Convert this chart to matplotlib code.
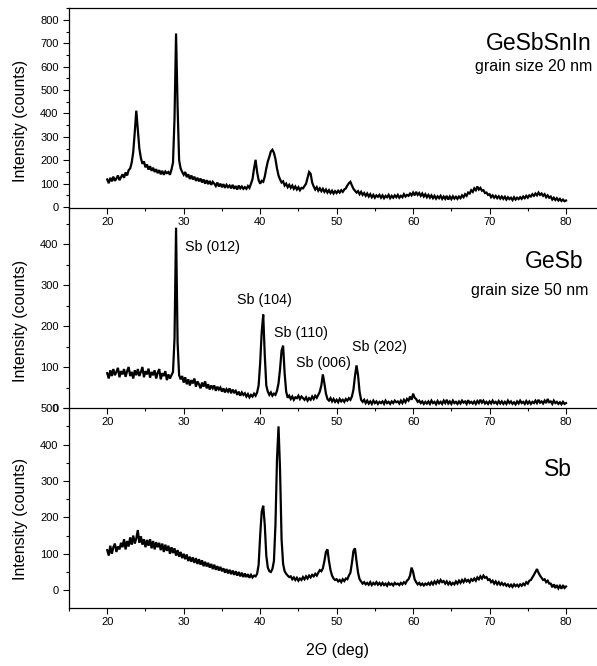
import numpy as np
import matplotlib
matplotlib.use("Agg")
import matplotlib.pyplot as plt
from matplotlib.ticker import MultipleLocator

plt.rcParams['font.family'] = ['Liberation Sans', 'DejaVu Sans']

# measurement grid, 2-theta in degrees (0.2 deg steps, 20..80)
two_theta = np.round(np.arange(20.0, 80.0001, 0.2), 1)

gesbsnin_counts = [
    118, 102, 125, 110, 130, 112, 122, 135, 115, 128,   # 20
    140, 125, 148, 135, 158, 165, 190, 235, 320, 412,   # 22
    330, 250, 210, 185, 195, 170, 182, 160, 175, 155,   # 24
    168, 150, 162, 145, 158, 140, 155, 138, 152, 145,   # 26
    150, 138, 160, 190, 380, 742, 430, 200, 165, 150,   # 28
    138, 150, 128, 140, 120, 135, 118, 130, 112, 125,   # 30
    110, 122, 105, 118, 100, 115, 98, 112, 95, 108,     # 32
    100, 90, 105, 88, 100, 85, 98, 82, 95, 85,          # 34
    92, 80, 95, 78, 90, 75, 92, 80, 88, 78,             # 36
    85, 78, 90, 82, 100, 120, 165, 202, 150, 115,       # 38
    100, 112, 108, 130, 165, 195, 215, 238, 245, 232,   # 40
    205, 165, 135, 118, 105, 110, 92, 100, 85, 95,      # 42
    82, 92, 78, 88, 75, 85, 72, 82, 80, 90,             # 44
    100, 125, 150, 142, 105, 88, 75, 85, 70, 80,        # 46
    68, 78, 65, 75, 62, 72, 60, 70, 58, 68,             # 48
    60, 70, 62, 72, 65, 75, 80, 92, 102, 108,           # 50
    92, 78, 70, 62, 68, 55, 65, 52, 60, 48,             # 52
    58, 45, 55, 42, 52, 40, 50, 44, 52, 40,             # 54
    50, 38, 48, 42, 52, 38, 48, 40, 50, 42,             # 56
    52, 40, 48, 42, 55, 45, 52, 48, 58, 50,             # 58
    62, 50, 65, 52, 60, 48, 58, 45, 55, 42,             # 60
    52, 40, 50, 38, 48, 36, 46, 38, 48, 35,             # 62
    45, 35, 48, 32, 45, 34, 46, 36, 44, 35,             # 64
    45, 38, 50, 42, 55, 48, 62, 58, 72, 65,             # 66
    80, 72, 88, 75, 82, 70, 72, 60, 62, 52,             # 68
    55, 42, 50, 40, 48, 38, 46, 36, 45, 35,             # 70
    44, 32, 42, 34, 40, 30, 42, 32, 40, 34,             # 72
    42, 35, 45, 38, 48, 40, 50, 45, 55, 48,             # 74
    58, 50, 62, 52, 58, 48, 55, 42, 50, 40,             # 76
    45, 32, 40, 30, 38, 28, 35, 26, 32, 25,             # 78
    28,                                                 # 80
]

gesb_counts = [
    85, 72, 92, 78, 95, 80, 88, 98, 75, 90,             # 20
    82, 95, 76, 90, 100, 78, 88, 72, 92, 80,            # 22
    95, 78, 88, 100, 75, 90, 82, 96, 74, 88,            # 24
    80, 92, 72, 86, 95, 70, 85, 78, 90, 68,             # 26
    82, 72, 80, 88, 170, 440, 160, 80, 70, 78,          # 28
    62, 75, 58, 70, 55, 68, 60, 72, 52, 65,             # 30
    58, 48, 62, 52, 65, 48, 58, 45, 55, 48,             # 32
    55, 42, 52, 45, 50, 40, 48, 38, 46, 40,             # 34
    48, 36, 45, 38, 42, 32, 40, 30, 38, 32,             # 36
    36, 28, 34, 26, 32, 28, 35, 30, 38, 55,             # 38
    110, 185, 228, 130, 55, 40, 32, 38, 30, 35,         # 40
    32, 42, 60, 95, 140, 152, 85, 40, 25, 30,           # 42
    22, 28, 20, 26, 24, 30, 22, 28, 24, 20,             # 44
    26, 18, 24, 20, 28, 22, 30, 25, 32, 40,             # 46
    55, 82, 60, 35, 22, 18, 24, 16, 22, 15,             # 48
    20, 14, 22, 16, 20, 15, 22, 18, 24, 20,             # 50
    28, 45, 78, 104, 80, 40, 20, 15, 20, 12,            # 52
    18, 11, 16, 10, 18, 12, 16, 10, 15, 12,             # 54
    16, 10, 18, 12, 15, 10, 16, 12, 18, 14,             # 56
    16, 11, 18, 12, 20, 14, 22, 18, 28, 20,             # 58
    35, 25, 22, 15, 18, 12, 16, 10, 15, 11,             # 60
    16, 10, 18, 12, 15, 9, 17, 11, 15, 10,              # 62
    18, 12, 20, 11, 16, 10, 18, 12, 15, 10,             # 64
    16, 11, 18, 13, 16, 10, 19, 12, 15, 11,             # 66
    16, 10, 17, 12, 20, 13, 18, 11, 15, 10,             # 68
    16, 11, 18, 12, 15, 10, 17, 11, 16, 10,             # 70
    15, 10, 18, 12, 16, 10, 14, 9, 16, 11,              # 72
    18, 12, 15, 10, 17, 11, 16, 10, 15, 12,             # 74
    18, 12, 20, 13, 16, 11, 18, 12, 22, 14,             # 76
    16, 10, 18, 12, 15, 10, 14, 9, 15, 10,              # 78
    12,                                                 # 80
]

sb_counts = [
    110, 95, 122, 100, 118, 128, 105, 120, 112, 130,    # 20
    118, 140, 112, 135, 120, 145, 125, 150, 128, 142,   # 22
    165, 130, 148, 125, 140, 118, 138, 122, 140, 115,   # 24
    135, 112, 132, 118, 130, 110, 128, 105, 125, 108,   # 26
    122, 100, 118, 102, 115, 95, 110, 92, 105, 88,      # 28
    100, 85, 98, 80, 92, 78, 90, 75, 88, 72,            # 30
    85, 70, 82, 66, 78, 65, 75, 62, 72, 58,             # 32
    70, 56, 66, 54, 64, 52, 60, 48, 58, 46,             # 34
    56, 44, 54, 42, 52, 40, 50, 38, 48, 36,             # 36
    46, 36, 44, 34, 42, 35, 40, 38, 45, 70,             # 38
    150, 215, 232, 180, 95, 62, 52, 50, 58, 80,         # 40
    180, 360, 450, 330, 140, 72, 52, 45, 40, 36,        # 42
    38, 30, 35, 28, 34, 26, 32, 28, 36, 30,             # 44
    38, 32, 40, 35, 42, 38, 45, 40, 48, 55,             # 46
    52, 60, 80, 105, 112, 80, 55, 40, 32, 28,           # 48
    30, 24, 28, 22, 30, 25, 32, 30, 40, 48,             # 50
    75, 108, 115, 80, 48, 30, 24, 18, 22, 16,           # 52
    20, 15, 22, 14, 20, 16, 22, 15, 20, 14,             # 54
    20, 14, 18, 12, 20, 15, 18, 13, 20, 16,             # 56
    18, 14, 20, 16, 22, 18, 26, 30, 40, 62,             # 58
    50, 30, 22, 16, 20, 14, 18, 13, 18, 15,             # 60
    20, 15, 22, 16, 24, 18, 26, 20, 28, 22,             # 62
    25, 18, 24, 16, 22, 15, 20, 16, 24, 18,             # 64
    26, 20, 28, 22, 30, 24, 28, 22, 30, 26,             # 66
    32, 26, 35, 30, 38, 32, 40, 34, 36, 28,             # 68
    30, 22, 26, 18, 24, 16, 22, 15, 20, 14,             # 70
    18, 12, 16, 10, 15, 9, 16, 11, 15, 10,              # 72
    16, 12, 18, 14, 22, 18, 26, 28, 35, 42,             # 74
    50, 58, 48, 40, 34, 28, 30, 22, 26, 18,             # 76
    18, 8, 16, 6, 14, 5, 12, 4, 14, 6,                  # 78
    10,                                                 # 80
]

panel_titles = ["GeSbSnIn", "GeSb", "Sb"]
panel_subtitles = ["grain size 20 nm", "grain size 50 nm", ""]
peak_labels = ["Sb (012)", "Sb (104)", "Sb (110)", "Sb (006)", "Sb (202)"]
peak_label_x = [30.2, 37.0, 41.8, 44.7, 52.0]
peak_label_y = [393, 263, 183, 110, 149]

W, H = 597, 666
fig = plt.figure(figsize=(W / 100, H / 100), dpi=100)

left_px = 69
panel_px = [(8, 208), (208, 408), (408, 608)]
ylims = [(-4, 851), (0, 488), (-49, 500.5)]
series = [gesbsnin_counts, gesb_counts, sb_counts]

axes = []
for i, ((top, bot), yl, counts) in enumerate(zip(panel_px, ylims, series)):
    ax = fig.add_axes([left_px / W, 1 - bot / H, 1 - left_px / W, (bot - top) / H])
    ax.plot(two_theta, counts, color='black', lw=1.6, solid_joinstyle='miter')
    ax.set_xlim(15, 84.05)
    ax.set_ylim(*yl)
    ax.xaxis.set_major_locator(MultipleLocator(10))
    ax.xaxis.set_minor_locator(MultipleLocator(5))
    ax.yaxis.set_major_locator(MultipleLocator(100))
    ax.yaxis.set_minor_locator(MultipleLocator(50))
    ax.spines['right'].set_visible(False)
    ax.spines['top'].set_visible(i == 0)
    for s in ax.spines.values():
        s.set_linewidth(0.9)
    ax.tick_params(axis='x', which='major', direction='out', length=4, width=0.8,
                   labelsize=8, pad=2.5)
    ax.tick_params(axis='x', which='minor', direction='out', length=2.2, width=0.8)
    ax.tick_params(axis='y', which='major', direction='out', length=4.5, width=0.8,
                   labelsize=8, pad=3)
    ax.tick_params(axis='y', which='minor', direction='out', length=2.3, width=0.8)
    ax.patch.set_alpha(0)
    axes.append(ax)

# panel titles
fig.text(592 / W, 1 - 44 / H, panel_titles[0], ha='right', va='center', fontsize=16.5)
fig.text(592 / W, 1 - 66 / H, panel_subtitles[0], ha='right', va='center', fontsize=11.5)
fig.text(583 / W, 1 - 262 / H, panel_titles[1], ha='right', va='center', fontsize=16.5)
fig.text(588 / W, 1 - 290 / H, panel_subtitles[1], ha='right', va='center', fontsize=11.5)
fig.text(572 / W, 1 - 470 / H, panel_titles[2], ha='right', va='center', fontsize=16.5)

for lab, px, py in zip(peak_labels, peak_label_x, peak_label_y):
    axes[1].text(px, py, lab, ha='left', va='center', fontsize=10.3)

for yc in [121, 321, 519]:
    fig.text(21 / W, 1 - yc / H, "Intensity (counts)", rotation=90,
             ha='center', va='center', fontsize=11.5)

fig.text(337.5 / W, 1 - 651 / H, "2\u0398 (deg)", ha='center', va='center', fontsize=11.5)

fig.savefig("out.png", dpi=100)
